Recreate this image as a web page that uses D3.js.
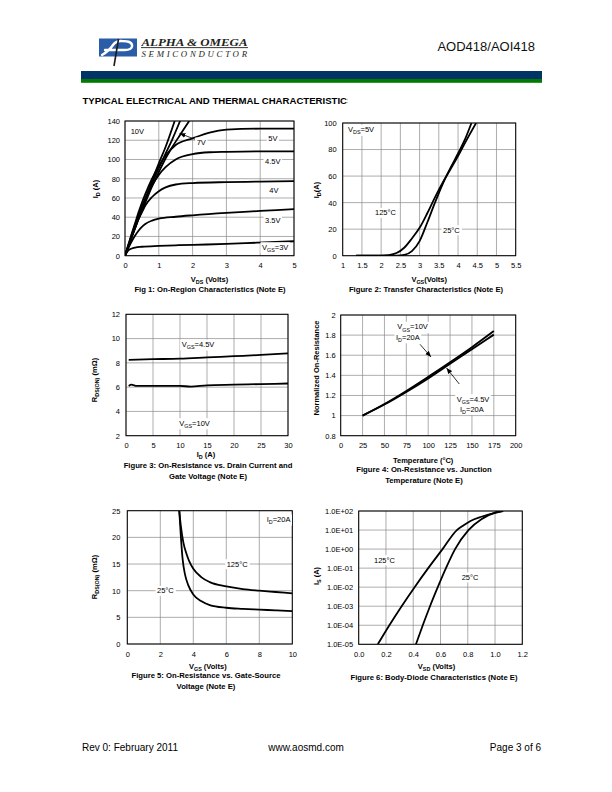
<!DOCTYPE html>
<html><head><meta charset="utf-8">
<script src="https://cdn.jsdelivr.net/npm/d3@7"></script>
<style>
html,body{margin:0;padding:0;background:#fff;}
svg{display:block;}
</style></head><body>
<svg id="page" width="612" height="792"></svg>
<script>
// ================= DATA =================
// Fig 1: On-Region Characteristics  (VDS [V], ID [A])
const fig1XTicks = [0,1,2,3,4,5];
const fig1YTicks = [0,20,40,60,80,100,120,140];
const fig1Vgs10  = [[0,0],[0.2,20],[0.4,40],[0.6,59],[0.8,78],[1,96],[1.2,113],[1.47,140]];
const fig1Vgs7   = [[0,0],[0.2,20],[0.4,39],[0.6,57],[0.8,75],[1,91],[1.2,106],[1.4,121],[1.63,140]];
const fig1Vgs6   = [[0,0],[0.2,19],[0.4,38],[0.6,55],[0.8,72],[1,87],[1.2,101],[1.4,113],[1.6,124],[1.9,140]];
const fig1Vgs5   = [[0,0],[0.1,11.5],[0.2,23],[0.3,34],[0.4,45],[0.5,55],[0.6,64],[0.8,80],[1,93],[1.2,104],[1.5,115],[2,122],[2.5,128],[3,131],[4,132],[5,132]];
const fig1Vgs45  = [[0,0],[0.1,11],[0.2,22],[0.3,32],[0.4,42],[0.5,51],[0.6,59],[0.8,73],[1,84],[1.2,92],[1.5,100],[2,105.5],[2.5,107.5],[3,108],[4,108.5],[5,108.5]];
const fig1Vgs4   = [[0,0],[0.1,10],[0.2,20],[0.3,29],[0.4,38],[0.5,45],[0.6,52],[0.8,61],[1,67],[1.2,71],[1.5,74],[2,75.5],[3,76.5],[4,77],[5,77.5]];
const fig1Vgs35  = [[0,0],[0.1,8],[0.2,15],[0.3,21],[0.4,26],[0.5,30],[0.6,33],[0.8,36.5],[1,38.5],[1.5,40.5],[2,42],[3,44.5],[4,46.5],[5,48.5]];
const fig1Vgs3   = [[0,0],[0.05,3],[0.1,5.5],[0.2,7.5],[0.3,8.5],[0.5,9.3],[1,10.2],[1.5,10.8],[2,11.3],[3,12.2],[3.9,13.5],[5,15]];

// Fig 2: Transfer Characteristics (VGS [V], ID [A])
const fig2XTicks = [1,1.5,2,2.5,3,3.5,4,4.5,5,5.5];
const fig2XLabels = ["1","1.5","2","2.5","3","3.5","4","4.5","5","5.5"];
const fig2YTicks = [0,20,40,60,80,100];
const fig2T25  = [[1.35,0],[2,0],[2.4,0.1],[2.6,0.6],[2.8,3.5],[3.0,11],[3.2,25],[3.4,40],[3.6,54],[3.8,66],[4.0,77],[4.2,89],[4.35,100]];
const fig2T125 = [[1.35,0],[2,0.1],[2.2,0.5],[2.4,2],[2.6,6],[2.8,13],[3.0,21],[3.2,32],[3.4,44],[3.6,55],[3.8,65],[4.0,75],[4.2,86],[4.47,100]];

// Fig 3: On-Resistance vs Drain Current (ID [A], RDS(ON) [mOhm])
const fig3XTicks = [0,5,10,15,20,25,30];
const fig3YTicks = [2,4,6,8,10,12];
const fig3Vgs45 = [[0.5,8.25],[5,8.3],[10,8.35],[15,8.45],[20,8.55],[25,8.65],[30,8.78]];
const fig3Vgs10 = [[0.5,6.1],[1,6.2],[2,6.1],[5,6.1],[10,6.1],[12,6.05],[15,6.15],[20,6.2],[25,6.25],[30,6.3]];

// Fig 4: Normalized On-Resistance vs Temperature
const fig4XTicks = [0,25,50,75,100,125,150,175,200];
const fig4YTicks = [0.8,1,1.2,1.4,1.6,1.8,2];
const fig4YLabels = ["0.8","1","1.2","1.4","1.6","1.8","2"];
const fig4Vgs10 = [[25,1.0],[50,1.115],[75,1.245],[100,1.385],[125,1.53],[150,1.68],[175,1.84]];
const fig4Vgs45 = [[25,1.0],[50,1.11],[75,1.235],[100,1.37],[125,1.515],[150,1.66],[175,1.805]];

// Fig 5: On-Resistance vs Gate-Source Voltage (VGS [V], RDS(ON) [mOhm])
const fig5XTicks = [0,2,4,6,8,10];
const fig5YTicks = [0,5,10,15,20,25];
const fig5T125 = [[3.15,25],[3.25,22],[3.4,19],[3.6,16.8],[3.8,15.2],[4,14.1],[4.5,12.5],[5,11.6],[6,10.8],[7,10.3],[8,10],[9,9.75],[10,9.5]];
const fig5T25  = [[3.15,25],[3.25,20],[3.35,16],[3.5,13],[3.7,11],[4,9.3],[4.5,8],[5,7.3],[6,6.8],[7,6.6],[8,6.45],[9,6.3],[10,6.15]];

// Fig 6: Body-Diode Characteristics (VSD [V], IS [A])
const fig6XTicks = [0,0.2,0.4,0.6,0.8,1.0,1.2];
const fig6XLabels = ["0.0","0.2","0.4","0.6","0.8","1.0","1.2"];
const fig6YTicks = [1e-5,1e-4,1e-3,1e-2,1e-1,1e0,1e1,1e2];
const fig6YLabels = ["1.0E-05","1.0E-04","1.0E-03","1.0E-02","1.0E-01","1.0E+00","1.0E+01","1.0E+02"];
const fig6T125 = [[0.14,1e-5],[0.225,1e-4],[0.315,1e-3],[0.41,1e-2],[0.51,1e-1],[0.615,1],[0.72,10],[0.77,18],[0.82,30],[0.9,50],[1.0,80],[1.06,100]];
const fig6T25  = [[0.42,1e-5],[0.47,1e-4],[0.523,1e-3],[0.58,1e-2],[0.64,1e-1],[0.707,1],[0.805,10],[0.9,37],[1.0,83],[1.05,100]];

// ================= RENDER =================
const FONT = '"Liberation Sans", Arial, Helvetica, sans-serif';
const GRID = "#8a8a8a";
const TICK = 7.5, TITLE = 7.5, CAP = 7.7, LAB = 7.5;
const svg = d3.select("#page").attr("font-family", FONT);

const defs = svg.append("defs");
defs.append("marker").attr("id","arr").attr("viewBox","0 0 10 10")
  .attr("refX",10).attr("refY",5).attr("markerWidth",6).attr("markerHeight",6)
  .attr("markerUnits","userSpaceOnUse").attr("orient","auto")
  .append("path").attr("d","M0,1 L10,5 L0,9 z").attr("fill","#000");

function rich(parent, parts, o) {
  const t = parent.append("text")
    .attr("x", o.x).attr("y", o.y)
    .attr("font-size", o.size)
    .attr("font-weight", o.weight || "normal")
    .attr("text-anchor", o.anchor || "start")
    .attr("fill", "#000");
  if (o.rotate) t.attr("transform", `rotate(-90,${o.x},${o.y})`);
  let inSub = false;
  parts.forEach(p => {
    const isSub = typeof p === "object";
    const ts = t.append("tspan").text(isSub ? p.s : p);
    if (isSub) ts.attr("font-size", o.size * 0.72);
    if (isSub && !inSub) ts.attr("dy", o.size * 0.28);
    if (!isSub && inSub) ts.attr("dy", -o.size * 0.28);
    inSub = isSub;
  });
  return t;
}

function boxedLabel(g, parts, x, yc) {
  const t = rich(g, parts, {x: x, y: yc + LAB * 0.36, size: LAB});
  const b = t.node().getBBox();
  g.insert("rect", () => t.node())
    .attr("x", b.x - 1.5).attr("y", b.y - 0.5)
    .attr("width", b.width + 3).attr("height", b.height + 1)
    .attr("fill", "#fff");
}

let clipN = 0;
function drawChart(c) {
  const g = svg.append("g");
  const x = c.x.range([c.L, c.R]);
  const y = c.y.range([c.B, c.T]);
  // grid
  g.append("g").selectAll("line").data(c.xTicks).join("line")
    .attr("x1", d => x(d)).attr("x2", d => x(d)).attr("y1", c.T).attr("y2", c.B)
    .attr("stroke", GRID).attr("stroke-width", 0.7);
  g.append("g").selectAll("line").data(c.yTicks).join("line")
    .attr("y1", d => y(d)).attr("y2", d => y(d)).attr("x1", c.L).attr("x2", c.R)
    .attr("stroke", GRID).attr("stroke-width", 0.7);
  // axes (labels only)
  const xa = g.append("g").attr("transform", `translate(0,${c.B})`)
    .call(d3.axisBottom(x).tickValues(c.xTicks)
      .tickFormat((d, i) => (c.xLabels ? c.xLabels[i] : String(d)))
      .tickSize(0).tickPadding(c.xPad || 7.4));
  xa.select(".domain").remove();
  xa.attr("font-family", FONT).attr("font-size", TICK);
  const ya = g.append("g").attr("transform", `translate(${c.L},0)`)
    .call(d3.axisLeft(y).tickValues(c.yTicks)
      .tickFormat((d, i) => (c.yLabels ? c.yLabels[i] : String(d)))
      .tickSize(0).tickPadding(c.yPad || 5.5));
  ya.select(".domain").remove();
  ya.attr("font-family", FONT).attr("font-size", TICK);
  // curves
  const id = "clip" + (clipN++);
  g.append("clipPath").attr("id", id).append("rect")
    .attr("x", c.L).attr("y", c.T).attr("width", c.R - c.L).attr("height", c.B - c.T);
  const line = d3.line().x(d => x(d[0])).y(d => y(d[1])).curve(d3.curveMonotoneX);
  g.append("g").attr("clip-path", `url(#${id})`)
    .selectAll("path").data(c.series).join("path")
    .attr("d", line).attr("fill", "none").attr("stroke", "#000")
    .attr("stroke-width", c.sw || 1.8).attr("stroke-linejoin", "round");
  // border
  g.append("rect").attr("x", c.L).attr("y", c.T)
    .attr("width", c.R - c.L).attr("height", c.B - c.T)
    .attr("fill", "none").attr("stroke", "#000").attr("stroke-width", 1);
  // annotation labels
  (c.labels || []).forEach(l => boxedLabel(g, l.parts, l.x, l.y));
  (c.arrows || []).forEach(a => {
    g.append("line").attr("x1", a[0]).attr("y1", a[1]).attr("x2", a[2]).attr("y2", a[3])
      .attr("stroke", "#000").attr("stroke-width", 0.8).attr("marker-end", "url(#arr)");
  });
  // titles
  rich(g, c.xTitle, {x: (c.L + c.R) / 2 + (c.xTitleDx || 0), y: c.xTitleY, size: TITLE, weight: "bold", anchor: "middle"});
  rich(g, c.yTitle, {x: c.yTitleX, y: c.yTitleY, size: TITLE, weight: "bold", anchor: "middle", rotate: true});
  c.caption.forEach((s, i) => {
    g.append("text").attr("x", c.capX).attr("y", c.capY + i * 11)
      .attr("text-anchor", "middle").attr("font-size", CAP).attr("font-weight", "bold").text(s);
  });
}

// ---------- header ----------
const hdr = svg.append("g");
hdr.append("rect").attr("x", 99).attr("y", 38.5).attr("width", 38).attr("height", 18).attr("fill", "#2b5ca8");
hdr.append("path").attr("d", "M102,55 Q109,51 113,45 Q116,40.5 122,41 Q133,41 132,46.5 Q131,50 125,50 L105,50")
  .attr("fill", "none").attr("stroke", "#fff").attr("stroke-width", 2.4).attr("stroke-linecap", "round");
hdr.append("path").attr("d", "M118.5,39 L114,66").attr("stroke", "#1e1a16").attr("stroke-width", 1.6);
hdr.append("text").attr("x", 141.5).attr("y", 45.5).attr("font-family", '"Liberation Serif", "Times New Roman", serif')
  .attr("font-style", "italic").attr("font-weight", "bold").attr("font-size", 11)
  .attr("textLength", 106).attr("lengthAdjust", "spacingAndGlyphs").attr("fill", "#231f1c").text("ALPHA & OMEGA");
hdr.append("rect").attr("x", 141).attr("y", 47.2).attr("width", 107).attr("height", 0.9).attr("fill", "#231f1c");
hdr.append("text").attr("x", 141.5).attr("y", 56.8).attr("font-family", '"Liberation Serif", "Times New Roman", serif')
  .attr("font-style", "italic").attr("font-size", 8.8)
  .attr("textLength", 105.5).attr("lengthAdjust", "spacing").attr("fill", "#231f1c").text("SEMICONDUCTOR");
hdr.append("text").attr("x", 535).attr("y", 50.5).attr("text-anchor", "end").attr("font-size", 13).attr("fill", "#111").text("AOD418/AOI418");
hdr.append("rect").attr("x", 81).attr("y", 71).attr("width", 461).attr("height", 8).attr("fill", "#003366");
hdr.append("rect").attr("x", 81).attr("y", 79).attr("width", 461).attr("height", 3.8).attr("fill", "#007a00");
defs.append("clipPath").attr("id", "titleclip").append("rect").attr("x", 0).attr("y", 80).attr("width", 347.5).attr("height", 40);
hdr.append("text").attr("x", 82.5).attr("y", 104).attr("font-size", 9.6).attr("font-weight", "bold")
  .attr("clip-path", "url(#titleclip)").text("TYPICAL ELECTRICAL AND THERMAL CHARACTERISTICS");

// ---------- Fig 1 ----------
drawChart({
  L: 125, R: 294, T: 121, B: 255.7,
  x: d3.scaleLinear().domain([0, 5]), y: d3.scaleLinear().domain([0, 140]),
  xTicks: fig1XTicks, yTicks: fig1YTicks, yPad: 5,
  series: [fig1Vgs10, fig1Vgs7, fig1Vgs6, fig1Vgs5, fig1Vgs45, fig1Vgs4, fig1Vgs35, fig1Vgs3],
  labels: [
    {parts: ["10V"], x: 130.7, y: 131.7},
    {parts: ["7V"], x: 196.7, y: 142.3},
    {parts: ["5V"], x: 268.3, y: 138.3},
    {parts: ["4.5V"], x: 265, y: 161.7},
    {parts: ["4V"], x: 269.3, y: 190},
    {parts: ["3.5V"], x: 265, y: 220.7},
    {parts: ["V", {s: "GS"}, "=3V"], x: 262, y: 247}
  ],
  arrows: [[195, 139.3, 179.5, 133.3]],
  xTitle: ["V", {s: "DS"}, " (Volts)"], xTitleY: 281.5,
  yTitle: ["I", {s: "D"}, " (A)"], yTitleX: 98, yTitleY: 189,
  caption: ["Fig 1: On-Region Characteristics (Note E)"], capX: 210, capY: 292
});

// ---------- Fig 2 ----------
drawChart({
  L: 342.7, R: 515.7, T: 123, B: 255.7,
  x: d3.scaleLinear().domain([1, 5.5]), y: d3.scaleLinear().domain([0, 100]),
  xTicks: fig2XTicks, xLabels: fig2XLabels, yTicks: fig2YTicks, yPad: 6,
  series: [fig2T25, fig2T125],
  labels: [
    {parts: ["V", {s: "DS"}, "=5V"], x: 348, y: 129.5},
    {parts: ["125°C"], x: 375, y: 212.7},
    {parts: ["25°C"], x: 443, y: 230}
  ],
  xTitle: ["V", {s: "GS"}, "(Volts)"], xTitleY: 281.5,
  yTitle: ["I", {s: "D"}, "(A)"], yTitleX: 319, yTitleY: 190,
  caption: ["Figure 2: Transfer Characteristics (Note E)"], capX: 426, capY: 292
});

// ---------- Fig 3 ----------
drawChart({
  L: 126, R: 288, T: 314.3, B: 435.7,
  x: d3.scaleLinear().domain([0, 30]), y: d3.scaleLinear().domain([2, 12]),
  xTicks: fig3XTicks, yTicks: fig3YTicks, yPad: 6, xPad: 6.5,
  series: [fig3Vgs45, fig3Vgs10],
  labels: [
    {parts: ["V", {s: "GS"}, "=4.5V"], x: 181.7, y: 344.3},
    {parts: ["V", {s: "GS"}, "=10V"], x: 179.3, y: 423}
  ],
  xTitle: ["I", {s: "D"}, " (A)"], xTitleY: 456.5, xTitleDx: -1,
  yTitle: ["R", {s: "DS(ON)"}, " (mΩ)"], yTitleX: 97, yTitleY: 380,
  caption: ["Figure 3: On-Resistance vs. Drain Current and", "Gate Voltage (Note E)"], capX: 208, capY: 468
});

// ---------- Fig 4 ----------
drawChart({
  L: 340.7, R: 515.7, T: 315, B: 435.7,
  x: d3.scaleLinear().domain([0, 200]), y: d3.scaleLinear().domain([0.8, 2]),
  xTicks: fig4XTicks, yTicks: fig4YTicks, yLabels: fig4YLabels, yPad: 5,
  series: [fig4Vgs10, fig4Vgs45], sw: 1.9,
  labels: [
    {parts: ["V", {s: "GS"}, "=10V"], x: 397.3, y: 326.7},
    {parts: ["I", {s: "D"}, "=20A"], x: 396, y: 337},
    {parts: ["V", {s: "GS"}, "=4.5V"], x: 456.7, y: 399},
    {parts: ["I", {s: "D"}, "=20A"], x: 460, y: 408.8}
  ],
  arrows: [[420, 344.3, 431, 357], [459.3, 384, 446.5, 368]],
  xTitle: ["Temperature (°C)"], xTitleY: 462.5, xTitleDx: -5,
  yTitle: ["Normalized On-Resistance"], yTitleX: 319, yTitleY: 368,
  caption: ["Figure 4: On-Resistance vs. Junction", "Temperature (Note E)"], capX: 424, capY: 472
});

// ---------- Fig 5 ----------
drawChart({
  L: 127.3, R: 292.3, T: 510.7, B: 644,
  x: d3.scaleLinear().domain([0, 10]), y: d3.scaleLinear().domain([0, 25]),
  xTicks: fig5XTicks, yTicks: fig5YTicks, yPad: 7,
  series: [fig5T125, fig5T25],
  labels: [
    {parts: ["I", {s: "D"}, "=20A"], x: 266.7, y: 519.3},
    {parts: ["125°C"], x: 226.7, y: 564},
    {parts: ["25°C"], x: 157, y: 590.7}
  ],
  xTitle: ["V", {s: "GS"}, " (Volts)"], xTitleY: 668.5, xTitleDx: -2,
  yTitle: ["R", {s: "DS(ON)"}, " (mΩ)"], yTitleX: 97, yTitleY: 577,
  caption: ["Figure 5: On-Resistance vs. Gate-Source", "Voltage (Note E)"], capX: 206, capY: 677.5
});

// ---------- Fig 6 ----------
drawChart({
  L: 358.7, R: 522.3, T: 511, B: 644.3,
  x: d3.scaleLinear().domain([0, 1.2]), y: d3.scaleLog().domain([1e-5, 1e2]),
  xTicks: fig6XTicks, xLabels: fig6XLabels, yTicks: fig6YTicks, yLabels: fig6YLabels, yPad: 5.5,
  series: [fig6T125, fig6T25],
  labels: [
    {parts: ["125°C"], x: 374, y: 560},
    {parts: ["25°C"], x: 461.7, y: 577.3}
  ],
  xTitle: ["V", {s: "SD"}, " (Volts)"], xTitleY: 668.5, xTitleDx: -4,
  yTitle: ["I", {s: "S"}, " (A)"], yTitleX: 319, yTitleY: 576,
  caption: ["Figure 6: Body-Diode Characteristics (Note E)"], capX: 434, capY: 680
});

// ---------- footer ----------
const ft = svg.append("g").attr("font-size", 10).attr("fill", "#000");
ft.append("text").attr("x", 82).attr("y", 751).text("Rev 0: February 2011");
ft.append("text").attr("x", 306).attr("y", 751).attr("text-anchor", "middle").text("www.aosmd.com");
ft.append("text").attr("x", 541).attr("y", 751).attr("text-anchor", "end").text("Page 3 of 6");
</script>
</body></html>
